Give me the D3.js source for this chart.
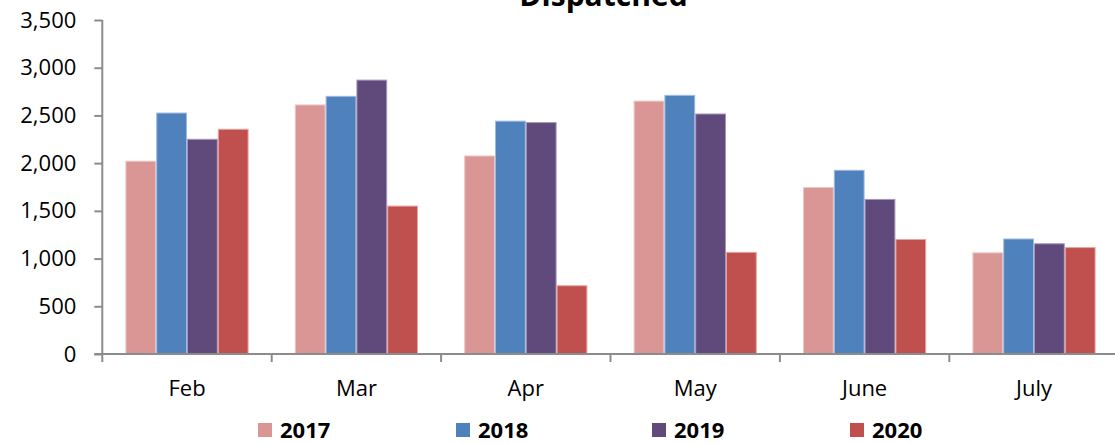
<!DOCTYPE html>
<html>
<head>
<meta charset="utf-8">
<script src="https://cdn.jsdelivr.net/npm/d3@7"></script>
<style>
  html, body { margin: 0; padding: 0; background: #fff; }
  svg { display: block; }
  text { font-family: "Open Sans", "Noto Sans", sans-serif; fill: #000; }
</style>
</head>
<body>
<svg id="chart" width="1115" height="444"></svg>
<script>
const title = "Dispatched";
const months = ["Feb", "Mar", "Apr", "May", "June", "July"];
const years = ["2017", "2018", "2019", "2020"];
const values2017 = [2020, 2610, 2075, 2650, 1745, 1060];
const values2018 = [2525, 2700, 2440, 2710, 1925, 1205];
const values2019 = [2250, 2870, 2425, 2515, 1620, 1155];
const values2020 = [2355, 1550, 715, 1065, 1200, 1115];
const yTicks = [0, 500, 1000, 1500, 2000, 2500, 3000, 3500];
const colors = ["#D99694", "#4F81BD", "#604A7B", "#C0504D"];
const strokes = ["#EEC6C5", "#9DBBE0", "#A596B9", "#E8A3A1"];

const seriesValues = [values2017, values2018, values2019, values2020];

const svg = d3.select("#chart");
const plotLeft = 102.3, plotBottom = 354, plotTop = 20;
const step = 169.4;
const plotRight = plotLeft + step * months.length;

const y = d3.scaleLinear().domain([0, 3500]).range([plotBottom, plotTop]);
const xOuter = d3.scaleBand().domain(months).range([plotLeft, plotRight]).padding(0);
const x0 = d3.scaleBand().domain(months).range([plotLeft, plotRight])
  .paddingInner(1.5 / 5.5).paddingOuter(0.75 / 5.5);
const x1 = d3.scaleBand().domain(years).range([0, x0.bandwidth()]).padding(0);

// bars
const groups = svg.append("g").selectAll("g")
  .data(months)
  .join("g")
  .attr("transform", d => `translate(${x0(d)},0)`);

groups.selectAll("rect")
  .data((m, i) => years.map((yr, j) => ({ yr, j, v: seriesValues[j][i] })))
  .join("rect")
  .attr("x", d => x1(d.yr) + 0.5)
  .attr("y", d => y(d.v))
  .attr("width", x1.bandwidth() - 1)
  .attr("height", d => plotBottom - y(d.v))
  .attr("fill", d => colors[d.j])
  .attr("stroke", d => strokes[d.j])
  .attr("stroke-width", 1);

// y axis
const yAxis = svg.append("g")
  .attr("transform", `translate(${plotLeft},0)`)
  .call(d3.axisLeft(y).tickValues(yTicks).tickFormat(d3.format(",")).tickSize(8).tickPadding(18));
yAxis.select(".domain").attr("stroke", "#8C8C8C").attr("stroke-width", 2)
  .attr("d", `M0,${plotTop}V${plotBottom}`);
yAxis.selectAll(".tick line").attr("stroke", "#8C8C8C").attr("stroke-width", 2);
yAxis.selectAll(".tick text").attr("font-size", 22).attr("fill", "#000")
  .attr("font-family", "'Open Sans', sans-serif");

// x axis
const xAxis = svg.append("g")
  .attr("transform", `translate(0,${plotBottom})`)
  .call(d3.axisBottom(xOuter).tickSize(0).tickPadding(26));
xAxis.select(".domain").attr("stroke", "#8C8C8C").attr("stroke-width", 2)
  .attr("d", `M${plotLeft - 8},0H${plotRight}`);
xAxis.selectAll(".tick text").attr("font-size", 22).attr("fill", "#000")
  .attr("font-family", "'Open Sans', sans-serif");
const boundaries = d3.range(months.length + 1).map(i => xOuter.range()[0] + i * xOuter.step());
xAxis.append("g").selectAll("line")
  .data(boundaries)
  .join("line")
  .attr("x1", d => d).attr("x2", d => d)
  .attr("y1", 0).attr("y2", 8)
  .attr("stroke", "#8C8C8C").attr("stroke-width", 2);

// title (cut off at the top edge, as in the reference)
svg.append("text")
  .attr("x", 603.5).attr("y", 6)
  .attr("text-anchor", "middle")
  .attr("font-size", 30).attr("font-weight", "bold")
  .text(title);

// legend
const legendX = [258, 456, 652, 850];
const legend = svg.append("g").selectAll("g")
  .data(years)
  .join("g")
  .attr("transform", (d, i) => `translate(${legendX[i]},423)`);
legend.append("rect").attr("width", 14).attr("height", 14)
  .attr("fill", (d, i) => colors[i]);
legend.append("text").attr("x", 22).attr("y", 15)
  .attr("font-size", 22).attr("font-weight", "bold")
  .text(d => d);
</script>
</body>
</html>
